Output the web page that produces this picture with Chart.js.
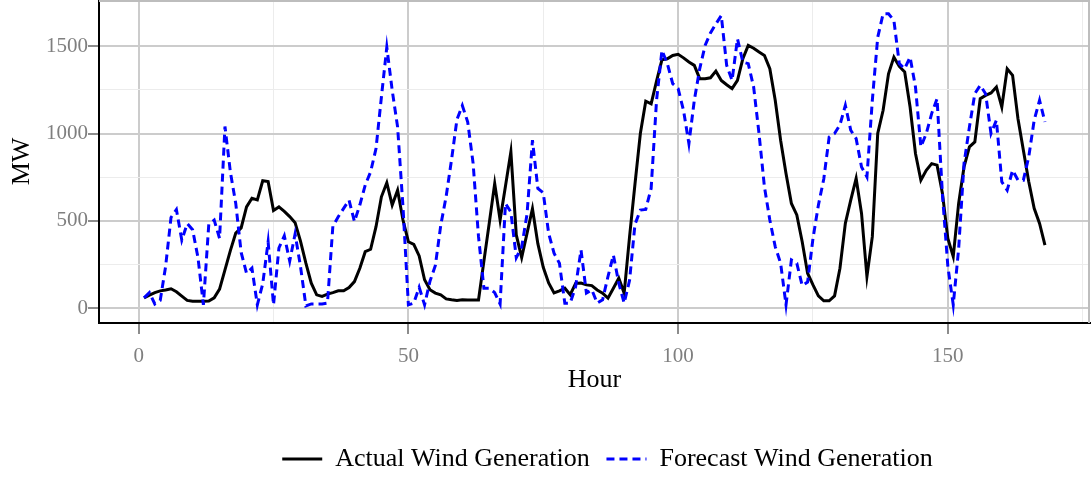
<!DOCTYPE html>
<html>
<head>
<meta charset="utf-8">
<title>Wind generation: actual vs forecast</title>
<script src="https://cdn.jsdelivr.net/npm/chart.js@4.4.0/dist/chart.umd.min.js"></script>
<style>
  html, body { margin: 0; padding: 0; background: #ffffff; }
  #wrap { width: 1091px; height: 477px; }
</style>
</head>
<body>
<div id="wrap"><canvas id="windChart" width="1091" height="477"></canvas></div>
<script>
// --- data -------------------------------------------------------------

// hour of the week, 1..168
var hours = [];
for (var h = 1; h <= 168; h++) { hours.push(h); }

var actualMW = [
    60, 75, 90, 100, 105, 112, 95, 70, 45, 40,
    40, 40, 42, 60, 110, 220, 330, 430, 460, 580,
    630, 620, 730, 725, 560, 580, 555, 525, 490, 385,
    258, 144, 77, 68, 81, 90, 100, 100, 119, 153,
    229, 324, 338, 467, 638, 718, 591, 676, 505, 381,
    366, 300, 163, 106, 87, 77, 54, 49, 45, 49,
    48, 48, 48, 270, 490, 714, 505, 700, 895, 420,
    290, 430, 570, 370, 235, 145, 88, 100, 115, 78,
    143, 145, 134, 130, 105, 87, 58, 115, 172, 87,
    410, 710, 1000, 1185, 1170, 1300, 1422, 1428, 1447, 1453,
    1433, 1409, 1390, 1314, 1314, 1319, 1357, 1304, 1279, 1257,
    1304, 1428, 1504, 1488, 1466, 1447, 1371, 1190, 962, 772,
    600, 534, 381, 201, 134, 71, 43, 43, 71, 229,
    486, 619, 743, 543, 182, 410, 1000, 1133, 1342, 1437,
    1384, 1352, 1152, 886, 733, 790, 828, 819, 657, 400,
    296, 600, 809, 924, 952, 1199, 1218, 1232, 1266, 1152,
    1370, 1333, 1085, 905, 724, 572, 486, 362
];

var forecastMW = [
    60, 90, 25, 45, 240, 520, 565, 390, 485, 450,
    290, 20, 480, 505, 400, 1040, 780, 600, 320, 200,
    230, 20, 140, 380, 20, 345, 415, 270, 425, 240,
    14, 25, 25, 25, 30, 470, 524, 572, 619, 496,
    591, 705, 781, 914, 1209, 1494, 1247, 1038, 581, 20,
    30, 120, 20, 155, 245, 475, 640, 850, 1080, 1160,
    1066, 829, 410, 115, 115, 90, 25, 600, 550, 290,
    350, 540, 962, 686, 661, 429, 315, 258, 29, 30,
    124, 334, 87, 106, 30, 49, 182, 305, 144, 30,
    160, 480, 562, 566, 686, 1190, 1476, 1400, 1285, 1257,
    1133, 942, 1190, 1370, 1504, 1576, 1627, 1675, 1390, 1304,
    1542, 1409, 1400, 1266, 999, 695, 505, 353, 258, 20,
    277, 258, 130, 150, 400, 590, 740, 980, 1000, 1050,
    1161, 1019, 971, 809, 752, 1190, 1551, 1685, 1685, 1647,
    1400, 1371, 1437, 1266, 924, 1000, 1114, 1200, 650, 240,
    20, 340, 829, 1038, 1228, 1276, 1228, 1000, 1076, 724,
    676, 790, 733, 733, 867, 1076, 1190, 1066
];

var seriesNames = ["Actual Wind Generation", "Forecast Wind Generation"];

// axis ticks: majors get a label, minors only a light grid line
var xGridValues = [0, 25, 50, 75, 100, 125, 150, 175];
var xLabelValues = [0, 50, 100, 150];
var yGridValues = [0, 250, 500, 750, 1000, 1250, 1500];
var yLabelValues = [0, 500, 1000, 1500];

// ----------------------------------------------------------------------

var SERIF = "'Liberation Serif', 'Times New Roman', serif";
var LINE_W = 3;

function toPoints(values) {
    return values.map(function (v, i) { return {x: hours[i], y: v}; });
}

function isMajor(ctx, labelValues) {
    return ctx.tick && labelValues.indexOf(ctx.tick.value) !== -1;
}

// gray top/right edges of the panel (left/bottom come from the axis borders)
var panelEdges = {
    id: "panelEdges",
    beforeDatasetsDraw: function (chart) {
        var ctx = chart.ctx, a = chart.chartArea;
        ctx.save();
        ctx.strokeStyle = "#bdbdbd";
        ctx.lineWidth = 2;
        ctx.beginPath();
        ctx.moveTo(a.left, a.top + 1);
        ctx.lineTo(a.right - 1, a.top + 1);
        ctx.lineTo(a.right - 1, a.bottom);
        ctx.stroke();
        ctx.restore();
    }
};

// legend sits a bit right of the canvas centre in the original
var legendNudge = {
    id: "legendNudge",
    afterLayout: function (chart) {
        if (chart.legend) {
            chart.legend.left += 13;
            chart.legend.right += 13;
        }
    }
};

// legend keys: same stroke as the dataset (point style drops the dash otherwise)
function legendLabels(chart) {
    var items = Chart.defaults.plugins.legend.labels.generateLabels(chart);
    items.forEach(function (it) {
        var ds = chart.data.datasets[it.datasetIndex];
        if (it.datasetIndex === 0) {
            it.text = it.text + " \u2009";
        }
        it.strokeStyle = ds.borderColor;
        it.lineWidth = ds.borderWidth;
        it.lineDash = ds.borderDash || [];
        it.lineCap = "butt";
    });
    return items;
}

new Chart(document.getElementById("windChart"), {
    type: "line",
    data: {
        datasets: [
            {
                label: seriesNames[0],
                data: toPoints(actualMW),
                borderColor: "#000000",
                backgroundColor: "#000000",
                borderWidth: LINE_W,
                pointRadius: 0,
                tension: 0,
                order: 1
            },
            {
                label: seriesNames[1],
                data: toPoints(forecastMW),
                borderColor: "#0000ff",
                backgroundColor: "#0000ff",
                borderWidth: LINE_W,
                borderDash: [8, 5],
                pointRadius: 0,
                tension: 0,
                order: 0
            }
        ]
    },
    options: {
        responsive: false,
        devicePixelRatio: 1,
        animation: false,
        layout: {padding: {left: 0, right: 1, top: 0, bottom: -5}},
        scales: {
            x: {
                type: "linear",
                min: -7.35,
                max: 176.35,
                afterBuildTicks: function (s) {
                    s.ticks = xGridValues.map(function (v) { return {value: v}; });
                },
                afterFit: function (s) {
                    s.height = 118;
                    s.paddingLeft = 0;
                    s.paddingRight = 0;
                },
                ticks: {
                    autoSkip: false,
                    maxRotation: 0,
                    padding: 10,
                    color: "#7f7f7f",
                    font: {family: SERIF, size: 21},
                    callback: function (v) { return xLabelValues.indexOf(v) !== -1 ? String(v) : ""; }
                },
                grid: {
                    color: function (c) { return isMajor(c, xLabelValues) ? "#cccccc" : "#ececec"; },
                    lineWidth: function (c) { return isMajor(c, xLabelValues) ? 2 : 1; },
                    tickLength: 11,
                    tickWidth: 2,
                    tickColor: function (c) { return isMajor(c, xLabelValues) ? "#8c8c8c" : "rgba(0,0,0,0)"; }
                },
                border: {display: true, color: "#000000", width: 2},
                title: {
                    display: true,
                    text: "Hour",
                    color: "#000000",
                    font: {family: SERIF, size: 26},
                    padding: {top: 0, bottom: 45}
                }
            },
            y: {
                min: -84,
                max: 1764,
                afterBuildTicks: function (s) {
                    s.ticks = yGridValues.map(function (v) { return {value: v}; });
                },
                afterFit: function (s) {
                    s.width = 99;
                    s.paddingTop = 0;
                    s.paddingBottom = 0;
                },
                ticks: {
                    padding: 0,
                    color: "#7f7f7f",
                    font: {family: SERIF, size: 21},
                    callback: function (v) { return yLabelValues.indexOf(v) !== -1 ? String(v) : ""; }
                },
                grid: {
                    color: function (c) { return isMajor(c, yLabelValues) ? "#cccccc" : "#ececec"; },
                    lineWidth: function (c) { return isMajor(c, yLabelValues) ? 2 : 1; },
                    tickLength: 11,
                    tickWidth: 2,
                    tickColor: function (c) { return isMajor(c, yLabelValues) ? "#8c8c8c" : "rgba(0,0,0,0)"; }
                },
                border: {display: true, color: "#000000", width: 2},
                title: {
                    display: true,
                    text: "MW",
                    color: "#000000",
                    font: {family: SERIF, size: 26},
                    padding: {top: 7, bottom: 0}
                }
            }
        },
        plugins: {
            legend: {
                position: "bottom",
                fullSize: false,
                labels: {
                    usePointStyle: true,
                    pointStyle: "line",
                    pointStyleWidth: 40,
                    padding: 5,
                    color: "#000000",
                    font: {family: SERIF, size: 26},
                    sort: function (a, b) { return a.datasetIndex - b.datasetIndex; },
                    generateLabels: legendLabels
                }
            },
            tooltip: {enabled: false}
        }
    },
    plugins: [panelEdges, legendNudge]
});
</script>
</body>
</html>
